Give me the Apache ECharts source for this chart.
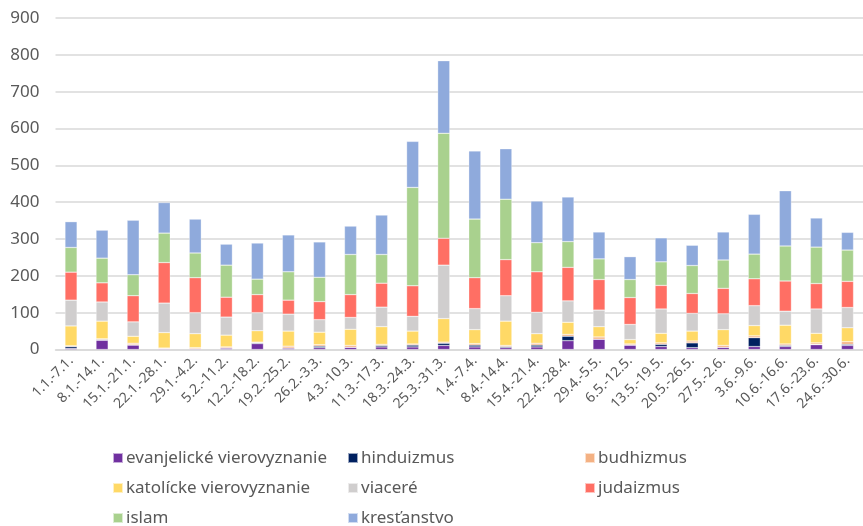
<!DOCTYPE html>
<html>
<head>
<meta charset="utf-8">
<script src="https://cdn.jsdelivr.net/npm/echarts@6/dist/echarts.min.js"></script>
<style>
  html, body { margin: 0; padding: 0; background: #fff; }
  #main { width: 863px; height: 526px; }
</style>
</head>
<body>
<div id="main"></div>
<script>
// tyzdne
let weeks = ['1.1.-7.1.', '8.1.-14.1.', '15.1.-21.1.', '22.1.-28.1.', '29.1.-4.2.', '5.2.-11.2.',
    '12.2.-18.2.', '19.2.-25.2.', '26.2.-3.3.', '4.3.-10.3.', '11.3.-17.3.', '18.3.-24.3.',
    '25.3.-31.3.', '1.4.-7.4.', '8.4.-14.4.', '15.4.-21.4.', '22.4.-28.4.', '29.4.-5.5.',
    '6.5.-12.5.', '13.5.-19.5.', '20.5.-26.5.', '27.5.-2.6.', '3.6.-9.6.', '10.6.-16.6.',
    '17.6.-23.6.', '24.6.-30.6.'];

let evanjelicke = [3, 25, 12, 2, 2, 4, 16, 4, 5, 6, 7, 7, 11, 7, 5, 7, 24, 28, 12, 8, 5, 6, 8, 8, 13, 11];
let hinduizmus  = [5, 2, 1, 0, 0, 0, 2, 0, 4, 0, 4, 5, 6, 5, 3, 5, 12, 0, 0, 6, 13, 0, 24, 3, 1, 3];
let budhizmus   = [2, 2, 4, 2, 3, 3, 2, 5, 4, 5, 3, 3, 3, 4, 3, 5, 5, 6, 3, 4, 5, 5, 5, 4, 4, 7];
let katolicke   = [54, 48, 19, 42, 38, 32, 31, 41, 34, 44, 48, 35, 64, 38, 66, 26, 33, 28, 12, 26, 27, 43, 28, 51, 26, 38];
let viacere     = [70, 52, 39, 80, 57, 49, 49, 46, 34, 32, 53, 40, 145, 57, 69, 58, 58, 45, 41, 66, 48, 43, 54, 38, 66, 55];
let judaizmus   = [76, 52, 71, 110, 95, 54, 49, 38, 49, 62, 65, 83, 73, 84, 98, 110, 91, 83, 73, 64, 54, 69, 73, 82, 69, 71];
let islam       = [67, 67, 57, 80, 67, 87, 42, 77, 66, 109, 78, 267, 285, 159, 164, 79, 70, 56, 49, 64, 76, 77, 67, 95, 99, 85];
let krestanstvo = [70, 76, 148, 83, 92, 57, 98, 100, 96, 77, 107, 125, 197, 185, 137, 113, 121, 73, 62, 65, 55, 76, 108, 150, 79, 48];

let yTicks = [0, 900, 100]; // min, max, krok

let dom = document.getElementById('main');
let myChart = echarts.init(dom);
var option = null;

var font = 'Noto Sans';
var gray = '#595959';

function bar(name, data, color) {
    return {
        name: name,
        type: 'bar',
        stack: 'spolu',
        barWidth: '39%',
        data: data,
        itemStyle: { color: color, borderColor: 'rgba(255,255,255,0.6)', borderWidth: 0.5 }
    };
}

// tri stlpce legendy, kazdy zvlast
function legend(left, names) {
    return {
        orient: 'vertical',
        left: left,
        top: 449,
        height: 100,
        padding: 0,
        icon: 'rect',
        itemWidth: 10,
        itemHeight: 10,
        itemGap: 12,
        selectedMode: false,
        data: names,
        textStyle: { fontFamily: font, fontSize: 17, color: gray, lineHeight: 18, padding: [0, 0, 0, -2] }
    };
}

option = {
    animation: false,
    backgroundColor: '#fff',
    grid: { left: 55.5, right: -7, top: 18, bottom: 176.5 },
    legend: [
        legend(112, ['evanjelické vierovyznanie', 'katolícke vierovyznanie', 'islam']),
        legend(347, ['hinduizmus', 'viaceré', 'kresťanstvo']),
        legend(584, ['budhizmus', 'judaizmus'])
    ],
    xAxis: {
        type: 'category',
        data: weeks,
        axisTick: { show: false },
        axisLine: { lineStyle: { color: '#D9D9D9', width: 1.5 } },
        axisLabel: { rotate: 45, margin: 9, interval: 0, fontFamily: font, fontSize: 14, color: gray }
    },
    yAxis: {
        type: 'value',
        min: yTicks[0],
        max: yTicks[1],
        interval: yTicks[2],
        axisLine: { show: false },
        axisTick: { show: false },
        splitLine: { lineStyle: { color: '#D9D9D9', width: 1.5 } },
        axisLabel: { margin: 16, fontFamily: font, fontSize: 17, color: gray }
    },
    series: [
        bar('evanjelické vierovyznanie', evanjelicke, '#7030A0'),
        bar('hinduizmus', hinduizmus, '#002060'),
        bar('budhizmus', budhizmus, '#F4B183'),
        bar('katolícke vierovyznanie', katolicke, '#FFD966'),
        bar('viaceré', viacere, '#D0CECE'),
        bar('judaizmus', judaizmus, '#FF6F64'),
        bar('islam', islam, '#A9D18E'),
        bar('kresťanstvo', krestanstvo, '#8FAADC')
    ]
};

myChart.setOption(option, true);
</script>
</body>
</html>
